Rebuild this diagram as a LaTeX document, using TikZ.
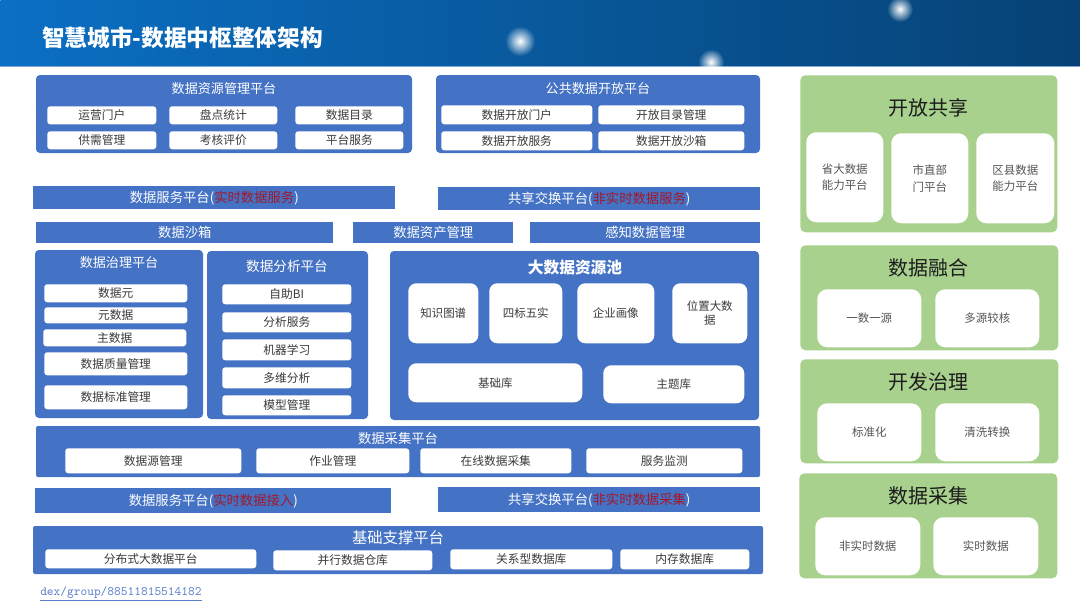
\documentclass[tikz,border=0pt]{standalone}
\usepackage{fontspec}
\setmainfont{Noto Sans CJK SC}
\usepackage{xcolor}
\usetikzlibrary{fadings}

\definecolor{blueb}{HTML}{4472C4}
\definecolor{greenb}{HTML}{A9D18E}
\definecolor{hdL}{HTML}{0B6FC4}
\definecolor{hdM}{HTML}{0A5FAA}
\definecolor{hdR}{HTML}{064274}
\definecolor{hdline}{HTML}{7EA7D8}
\definecolor{redt}{HTML}{A3182B}
\definecolor{txtgray}{HTML}{3A3A3A}
\definecolor{ggray}{HTML}{555555}
\definecolor{gtext}{HTML}{1C1C1C}
\definecolor{urlblue}{HTML}{5A7EC8}

\newdimen\px \px=0.75pt
\newcommand{\redtxt}[1]{\textcolor{redt}{#1}}
\tikzfading[name=glowfade, inner color=transparent!0, outer color=transparent!100]

\tikzset{
    wh/.style n args={2}{minimum width=#1\px, minimum height=#2\px},
    panel/.style={fill=blueb, rounded corners=3pt, anchor=north west, inner sep=0pt, outer sep=0pt},
    bar/.style={fill=blueb, anchor=north west, inner sep=0pt, text=white, font=\fontsize{10}{12}\selectfont},
    cell/.style={fill=white, rounded corners=2.2pt, anchor=north west, inner sep=0pt, text=txtgray, font=\fontsize{8.8}{10}\selectfont},
    bigcell/.style={cell, rounded corners=6pt, align=center, font=\fontsize{8.6}{10.5}\selectfont},
    ptitle/.style={text=white, font=\fontsize{9.8}{12}\selectfont, inner sep=0pt},
    gpanel/.style={fill=greenb, rounded corners=3.8pt, anchor=north west, inner sep=0pt},
    gtitle/.style={text=gtext, font=\fontsize{15}{18}\selectfont, inner sep=0pt},
    gcell/.style={fill=white, rounded corners=7.5pt, anchor=north west, inner sep=0pt, align=center, text=ggray, font=\fontsize{8.6}{12.5}\selectfont}
}

\begin{document}
\begin{tikzpicture}[x=0.75pt, y=-0.75pt]
\useasboundingbox (0,0) rectangle (1080,608);

% Header
\node[anchor=north west, inner sep=0pt, wh={1080}{66}, left color=hdL, middle color=hdM, right color=hdR] (header) at (0,0) {};
\draw[hdline, line width=1.5\px] (header.south west) -- (header.south east);
\fill[white, path fading=glowfade] (520,41) circle (15);
\fill[white, path fading=glowfade] (711,62) circle (13);
\fill[white, path fading=glowfade] (900,9) circle (13);
\node[anchor=west, inner sep=0pt, text=white, font=\fontsize{17}{20}\selectfont\bfseries] (title) at (42,38) {智慧城市-数据中枢整体架构};

% Data resource management
\node[panel, wh={376}{78}] (ziyuan) at (36,75) {};
\node[ptitle] (ziyuan-t) at (224,89) {数据资源管理平台};
\node[cell, wh={109}{18}] (zy1) at (47,106) {运营门户};
\node[cell, wh={108}{18}] (zy2) at (169,106) {盘点统计};
\node[cell, wh={108}{18}] (zy3) at (295,106) {数据目录};
\node[cell, wh={109}{18}] (zy4) at (47,131) {供需管理};
\node[cell, wh={108}{18}] (zy5) at (169,131) {考核评价};
\node[cell, wh={108}{18}] (zy6) at (295,131) {平台服务};

% Public data opening
\node[panel, wh={324}{78}] (kaifang) at (436,75) {};
\node[ptitle] (kaifang-t) at (598,89) {公共数据开放平台};
\node[cell, wh={151}{19}] (kf1) at (441,105) {数据开放门户};
\node[cell, wh={146}{19}] (kf2) at (598,105) {开放目录管理};
\node[cell, wh={151}{19}] (kf3) at (441,131) {数据开放服务};
\node[cell, wh={146}{19}] (kf4) at (598,131) {数据开放沙箱};

% Service bars
\node[bar, wh={362}{23}] (fuwu) at (33,186) {数据服务平台(\redtxt{实时数据服务})};
\node[bar, wh={322}{23}] (jiaohuan) at (438,187) {共享交换平台(\redtxt{非实时数据服务})};
\node[bar, wh={297}{21}] (shaxiang) at (36,222) {数据沙箱};
\node[bar, wh={160}{21}] (zichan) at (353,222) {数据资产管理};
\node[bar, wh={230}{21}] (ganzhi) at (530,222) {感知数据管理};

% Data governance
\node[panel, wh={168}{168}] (zhili) at (35,250) {};
\node[ptitle] (zhili-t) at (119,263) {数据治理平台};
\node[cell, wh={143}{18}] (zl1) at (44,284) {数据元};
\node[cell, wh={143}{16}] (zl2) at (44,307) {元数据};
\node[cell, wh={143}{17}] (zl3) at (43,329) {主数据};
\node[cell, wh={143}{23}] (zl4) at (44,352) {数据质量管理};
\node[cell, wh={143}{24}] (zl5) at (44,385) {数据标准管理};

% Data analysis
\node[panel, wh={161}{168}] (fenxi) at (207,251) {};
\node[ptitle, font=\fontsize{10.2}{12}\selectfont] (fenxi-t) at (287,266) {数据分析平台};
\node[cell, wh={129}{20}] (fx1) at (222,284) {自助BI};
\node[cell, wh={129}{20}] (fx2) at (222,312) {分析服务};
\node[cell, wh={129}{21}] (fx3) at (222,339) {机器学习};
\node[cell, wh={129}{21}] (fx4) at (222,367) {多维分析};
\node[cell, wh={129}{20}] (fx5) at (222,395) {模型管理};

% Big data resource pool
\node[panel, wh={369}{169}] (chi) at (390,251) {};
\node[ptitle, font=\fontsize{11.8}{14}\selectfont\bfseries] (chi-t) at (575,268) {大数据资源池};
\node[bigcell, wh={70}{60}] (chi1) at (408,283) {知识图谱};
\node[bigcell, wh={73}{60}] (chi2) at (489,283) {四标五实};
\node[bigcell, wh={77}{60}] (chi3) at (577,283) {企业画像};
\node[bigcell, wh={75}{60}] (chi4) at (672,283) {位置大数\\据};
\node[bigcell, wh={174}{39}] (chi5) at (408,363) {基础库};
\node[bigcell, wh={141}{38}] (chi6) at (603,365) {主题库};

% Data collection
\node[panel, rounded corners=1.5pt, wh={724}{51}] (caiji) at (36,426) {};
\node[ptitle, font=\fontsize{10}{12}\selectfont] (caiji-t) at (398,438) {数据采集平台};
\node[cell, wh={176}{25}] (cj1) at (65,448) {数据源管理};
\node[cell, wh={153}{25}] (cj2) at (256,448) {作业管理};
\node[cell, wh={151}{25}] (cj3) at (420,448) {在线数据采集};
\node[cell, wh={156}{25}] (cj4) at (586,448) {服务监测};

\node[bar, wh={356}{25}] (fuwu2) at (35,488) {数据服务平台(\redtxt{实时数据接入})};
\node[bar, wh={322}{25}] (jiaohuan2) at (438,487) {共享交换平台(\redtxt{非实时数据采集})};

% Base support
\node[panel, rounded corners=1.5pt, wh={730}{48}] (jichu) at (33,526) {};
\node[ptitle, font=\fontsize{11.5}{14}\selectfont] (jichu-t) at (398,538) {基础支撑平台};
\node[cell, wh={211}{19}] (jc1) at (45,549) {分布式大数据平台};
\node[cell, wh={159}{20}] (jc2) at (273,550) {并行数据仓库};
\node[cell, wh={162}{20}] (jc3) at (450,549) {关系型数据库};
\node[cell, wh={129}{20}] (jc4) at (620,549) {内存数据库};

\node[anchor=west, inner sep=0pt, text=urlblue, font=\fontsize{9.6}{11}\ttfamily] (url) at (40,594) {\underline{dex/group/88511815514182}};

% Right column
\node[gpanel, wh={257}{157}] (kfgx) at (800,75) {};
\node[gtitle] (kfgx-t) at (928,108) {开放共享};
\node[gcell, wh={77}{90}] (gx1) at (806,132) {省大数据\\能力平台};
\node[gcell, wh={77}{90}] (gx2) at (891,133) {市直部\\门平台};
\node[gcell, wh={78}{90}] (gx3) at (976,133) {区县数据\\能力平台};

\node[gpanel, wh={258}{105}] (ronghe) at (800,245) {};
\node[gtitle] (ronghe-t) at (928,268) {数据融合};
\node[gcell, wh={104}{58}] (rh1) at (817,289) {一数一源};
\node[gcell, wh={104}{58}] (rh2) at (935,289) {多源较核};

\node[gpanel, wh={258}{104}] (kfzl) at (800,359) {};
\node[gtitle] (kfzl-t) at (928,382) {开发治理};
\node[gcell, wh={104}{58}] (kz1) at (817,403) {标准化};
\node[gcell, wh={104}{58}] (kz2) at (935,403) {清洗转换};

\node[gpanel, wh={258}{105}] (sjcj) at (799,473) {};
\node[gtitle] (sjcj-t) at (928,496) {数据采集};
\node[gcell, wh={105}{58}] (sc1) at (815,517) {非实时数据};
\node[gcell, wh={105}{58}] (sc2) at (933,517) {实时数据};

\end{tikzpicture}
\end{document}
